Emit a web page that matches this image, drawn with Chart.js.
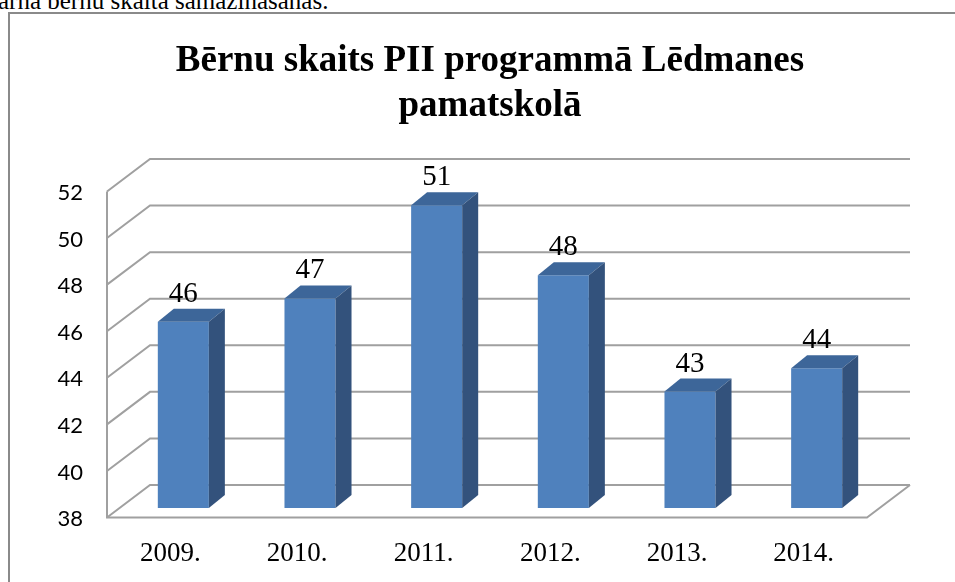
<!DOCTYPE html>
<html>
<head>
<meta charset="utf-8">
<script src="https://cdn.jsdelivr.net/npm/chart.js@4/dist/chart.umd.min.js"></script>
<style>
  html, body { margin: 0; padding: 0; background: #fff; overflow: hidden; }
  #wrap { position: relative; width: 955px; height: 582px; overflow: hidden; }
  #frame { position: absolute; left: 8px; top: 12px; width: 1000px; height: 700px;
           border-left: 2px solid #8a8a8a; border-top: 2px solid #8a8a8a; }
  #topline { position: absolute; left: -2px; top: -12px; font-family: "Liberation Serif", "Times New Roman", serif;
             font-size: 25px; line-height: 25px; color: #000; white-space: nowrap; }
  canvas { position: absolute; left: 0; top: 0; }
</style>
</head>
<body>
<div id="wrap">
  <div id="topline">arna bērnu skaita samazināšanas.</div>
  <div id="frame"></div>
  <canvas id="c" width="955" height="582"></canvas>
</div>
<script>
const titleLines = ['Bērnu skaits PII programmā Lēdmanes', 'pamatskolā'];
const categories = ['2009.', '2010.', '2011.', '2012.', '2013.', '2014.'];
const values = [46, 47, 51, 48, 43, 44];
const yMin = 38;
const yMax = 52;
const yStep = 2;

// 3D look (styling only)
const BACK = { dx: 30, dy: -23 };
const FRONT = { dx: -13, dy: 9.5 };
const BAR_DEPTH = { dx: 16, dy: -13 };
const GRID_COLOR = '#a0a0a0';

const box3d = {
  id: 'box3d',
  beforeDatasetsDraw(chart) {
    const { ctx, chartArea: a, scales: { y } } = chart;
    ctx.save();
    ctx.strokeStyle = GRID_COLOR;
    ctx.lineWidth = 2;
    ctx.lineCap = 'butt';
    const yBase = y.getPixelForValue(yMin);
    y.ticks.forEach(t => {
      const py = y.getPixelForValue(t.value);
      ctx.beginPath();
      ctx.moveTo(a.left + FRONT.dx, py + FRONT.dy);
      ctx.lineTo(a.left + BACK.dx, py + BACK.dy);
      ctx.lineTo(a.right + BACK.dx, py + BACK.dy);
      ctx.stroke();
    });
    // left front edge
    ctx.beginPath();
    ctx.moveTo(a.left + FRONT.dx, y.getPixelForValue(yMax) + FRONT.dy);
    ctx.lineTo(a.left + FRONT.dx, yBase + FRONT.dy);
    // floor front and right edges
    ctx.lineTo(a.right + FRONT.dx, yBase + FRONT.dy);
    ctx.lineTo(a.right + BACK.dx, yBase + BACK.dy);
    ctx.stroke();
    ctx.restore();
  },
  afterDatasetsDraw(chart) {
    const { ctx, scales: { y } } = chart;
    const meta = chart.getDatasetMeta(0);
    const bot = y.getPixelForValue(yMin);
    ctx.save();
    meta.data.forEach((bar, i) => {
      const p = bar.getProps(['x', 'y', 'width'], true);
      const l = p.x - p.width / 2, r = p.x + p.width / 2;
      const top = p.y;
      // top face
      ctx.fillStyle = '#3d6699';
      ctx.beginPath();
      ctx.moveTo(l, top);
      ctx.lineTo(l + BAR_DEPTH.dx, top + BAR_DEPTH.dy);
      ctx.lineTo(r + BAR_DEPTH.dx, top + BAR_DEPTH.dy);
      ctx.lineTo(r, top);
      ctx.closePath();
      ctx.fill();
      // side face
      ctx.fillStyle = '#33527c';
      ctx.beginPath();
      ctx.moveTo(r, top);
      ctx.lineTo(r + BAR_DEPTH.dx, top + BAR_DEPTH.dy);
      ctx.lineTo(r + BAR_DEPTH.dx, bot + BAR_DEPTH.dy);
      ctx.lineTo(r, bot);
      ctx.closePath();
      ctx.fill();
      // value label
      ctx.fillStyle = '#000';
      ctx.font = '29px "Liberation Serif", "Times New Roman", serif';
      ctx.textAlign = 'center';
      ctx.textBaseline = 'alphabetic';
      ctx.fillText(String(values[i]), p.x, top - 20);
    });
    ctx.restore();
  }
};

new Chart(document.getElementById('c'), {
  type: 'bar',
  data: {
    labels: categories,
    datasets: [{
      data: values,
      backgroundColor: '#4f81bd',
      borderWidth: 0,
      categoryPercentage: 1,
      barPercentage: 0.403
    }]
  },
  options: {
    responsive: false,
    animation: false,
    devicePixelRatio: 1,
    layout: { padding: { left: 25, right: 0, top: 0, bottom: 0 } },
    plugins: {
      legend: { display: false },
      tooltip: { enabled: false },
      title: {
        display: true,
        text: titleLines,
        color: '#000',
        font: { family: '"Liberation Serif", "Times New Roman", serif', size: 37, weight: 'bold', lineHeight: 1.216 },
        padding: { top: 39, bottom: 53 }
      }
    },
    scales: {
      x: {
        grid: { display: false, drawTicks: false },
        border: { display: false },
        ticks: {
          color: '#000',
          font: { family: '"Liberation Serif", "Times New Roman", serif', size: 27 },
          labelOffset: -13,
          padding: 30,
          maxRotation: 0
        },
        afterFit(s) { s.height = 74; }
      },
      y: {
        min: yMin,
        max: yMax,
        grid: { display: false, drawTicks: false },
        border: { display: false },
        ticks: {
          stepSize: yStep,
          color: '#000',
          font: { family: 'Lato, "Open Sans", sans-serif', size: 22 },
          labelOffset: 11,
          padding: 37
        },
        afterFit(s) { s.width = 95; }
      },
      yRight: {
        position: 'right',
        min: yMin,
        max: yMax,
        grid: { display: false, drawTicks: false },
        border: { display: false },
        ticks: { display: false },
        afterFit(s) { s.width = 75; }
      }
    }
  },
  plugins: [box3d]
});
</script>
</body>
</html>
